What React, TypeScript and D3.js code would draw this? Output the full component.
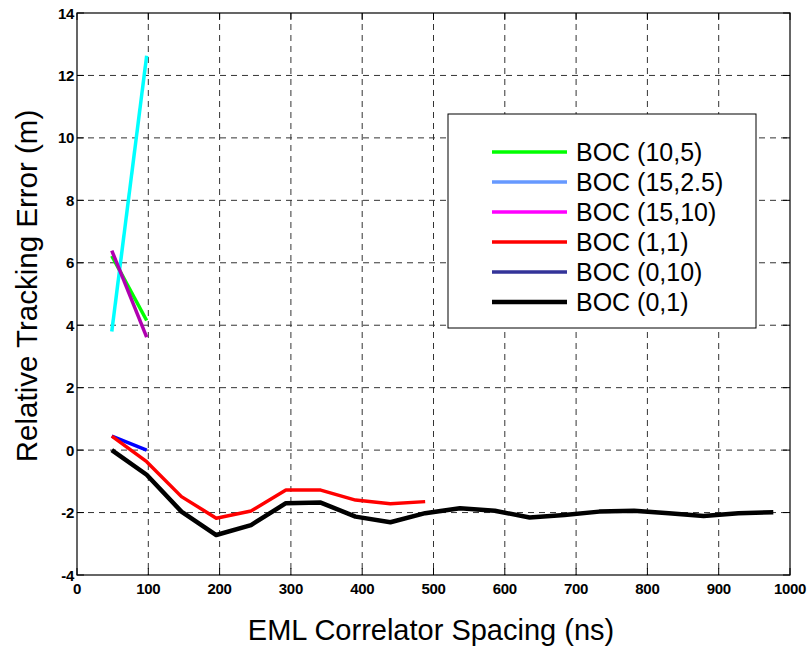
import React, { useEffect, useRef } from "react";
import * as d3 from "d3";

// correlator spacings in ns (multiples of one chip at 20.48 MHz)
const spacing = [
  48.8, 97.7, 146.5, 195.3, 244.1, 293.0, 341.8, 390.6, 439.5, 488.3,
  537.1, 586.0, 634.8, 683.6, 732.4, 781.3, 830.1, 878.9, 927.7, 976.6,
];

const boc_10_5 = [6.22, 4.15];
const boc_15_25 = [3.8, 12.63];
const boc_15_10 = [6.39, 3.62];
const boc_1_1 = [0.45, -0.37, -1.49, -2.18, -1.95, -1.28, -1.28, -1.6, -1.72, -1.65];
const boc_0_10 = [0.45, 0.0];
const boc_0_1 = [
  0.0, -0.79, -1.97, -2.72, -2.4, -1.7, -1.68, -2.13, -2.31, -2.02,
  -1.86, -1.94, -2.16, -2.08, -1.97, -1.94, -2.02, -2.11, -2.02, -1.99,
];

const xTicks = [0, 100, 200, 300, 400, 500, 600, 700, 800, 900, 1000];
const yTicks = [-4, -2, 0, 2, 4, 6, 8, 10, 12, 14];

// drawing order, legend order differs
const series = [
  { name: "BOC (10,5)", values: boc_10_5, color: "#00ff00", legendColor: "#00ff00", width: 3.5 },
  { name: "BOC (15,2.5)", values: boc_15_25, color: "#00ffff", legendColor: "#6699ff", width: 3.5 },
  { name: "BOC (15,10)", values: boc_15_10, color: "#b000b0", legendColor: "#ff00ff", width: 3.5 },
  { name: "BOC (0,10)", values: boc_0_10, color: "#0000ff", legendColor: "#333399", width: 3.5 },
  { name: "BOC (1,1)", values: boc_1_1, color: "#ff0000", legendColor: "#ff0000", width: 3.5 },
  { name: "BOC (0,1)", values: boc_0_1, color: "#000000", legendColor: "#000000", width: 4.5 },
];
const legendOrder = ["BOC (10,5)", "BOC (15,2.5)", "BOC (15,10)", "BOC (1,1)", "BOC (0,10)", "BOC (0,1)"];

const font = "Arial, 'Liberation Sans', sans-serif";

export default function App() {
  const ref = useRef<SVGSVGElement>(null);

  useEffect(() => {
    const svg = d3.select(ref.current);
    svg.selectAll("*").remove();

    const left = 77, right = 790, top = 13, bottom = 575;
    const x = d3.scaleLinear().domain([0, 1000]).range([left, right]);
    const y = d3.scaleLinear().domain([-4, 14]).range([bottom, top]);

    svg.append("rect").attr("width", 808).attr("height", 647).attr("fill", "white");

    // grid
    const grid = svg.append("g").attr("stroke", "#333").attr("stroke-width", 1).attr("stroke-dasharray", "6,5");
    grid.selectAll("line.v")
      .data(xTicks.slice(1, -1))
      .join("line")
      .attr("x1", (d) => x(d)).attr("x2", (d) => x(d))
      .attr("y1", top).attr("y2", bottom);
    grid.selectAll("line.h")
      .data(yTicks.slice(1, -1))
      .join("line")
      .attr("class", "h")
      .attr("x1", left).attr("x2", right)
      .attr("y1", (d) => y(d)).attr("y2", (d) => y(d));

    // lines
    const line = d3.line<number>()
      .x((_, i) => x(spacing[i]))
      .y((d) => y(d));
    series.forEach((s) => {
      svg.append("path")
        .datum(s.values)
        .attr("fill", "none")
        .attr("stroke", s.color)
        .attr("stroke-width", s.width)
        .attr("stroke-linejoin", "round")
        .attr("d", line);
    });

    // frame and inward ticks
    svg.append("rect")
      .attr("x", left).attr("y", top)
      .attr("width", right - left).attr("height", bottom - top)
      .attr("fill", "none").attr("stroke", "black").attr("stroke-width", 1.2);
    const tl = 7;
    const ticks = svg.append("g").attr("stroke", "black").attr("stroke-width", 1);
    xTicks.forEach((t) => {
      ticks.append("line").attr("x1", x(t)).attr("x2", x(t)).attr("y1", bottom).attr("y2", bottom - tl);
      ticks.append("line").attr("x1", x(t)).attr("x2", x(t)).attr("y1", top).attr("y2", top + tl);
    });
    yTicks.forEach((t) => {
      ticks.append("line").attr("x1", left).attr("x2", left + tl).attr("y1", y(t)).attr("y2", y(t));
      ticks.append("line").attr("x1", right).attr("x2", right - tl).attr("y1", y(t)).attr("y2", y(t));
    });

    // tick labels
    svg.append("g")
      .selectAll("text")
      .data(xTicks)
      .join("text")
      .attr("x", (d) => x(d))
      .attr("y", 594)
      .attr("text-anchor", "middle")
      .attr("font-family", font)
      .attr("font-weight", "bold")
      .attr("font-size", 15)
      .attr("letter-spacing", -0.3)
      .text((d) => d);
    svg.append("g")
      .selectAll("text")
      .data(yTicks)
      .join("text")
      .attr("x", 74)
      .attr("y", (d) => y(d) + 5.5)
      .attr("text-anchor", "end")
      .attr("font-family", font)
      .attr("font-weight", "bold")
      .attr("font-size", 15)
      .attr("letter-spacing", -0.3)
      .text((d) => d);

    // axis titles
    svg.append("text")
      .attr("x", 431).attr("y", 640)
      .attr("text-anchor", "middle")
      .attr("font-family", font).attr("font-size", 29)
      .text("EML Correlator Spacing (ns)");
    svg.append("text")
      .attr("transform", "translate(37,286) rotate(-90)")
      .attr("text-anchor", "middle")
      .attr("font-family", font).attr("font-size", 29.5)
      .text("Relative Tracking Error (m)");

    // legend
    const lg = svg.append("g");
    lg.append("rect")
      .attr("x", 448).attr("y", 114)
      .attr("width", 308).attr("height", 214)
      .attr("fill", "white").attr("stroke", "black").attr("stroke-width", 1);
    legendOrder.forEach((name, i) => {
      const s = series.find((d) => d.name === name)!;
      const ly = 152 + i * 30;
      lg.append("line")
        .attr("x1", 492).attr("x2", 567)
        .attr("y1", ly).attr("y2", ly)
        .attr("stroke", s.legendColor)
        .attr("stroke-width", s.width);
      lg.append("text")
        .attr("x", 576).attr("y", ly + 9)
        .attr("font-family", font).attr("font-size", 25)
        .text(name);
    });
  }, []);

  return (
    <svg
      ref={ref}
      width={808}
      height={647}
      style={{ position: "absolute", left: 0, top: 0 }}
    />
  );
}
